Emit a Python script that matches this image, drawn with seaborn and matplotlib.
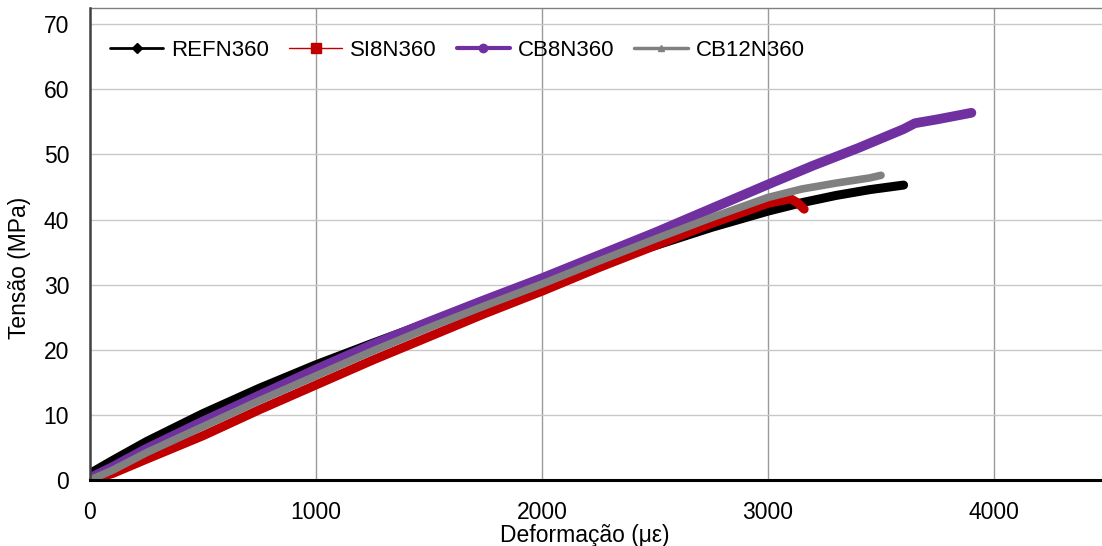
import matplotlib
matplotlib.use("Agg")
import matplotlib.pyplot as plt
from matplotlib.lines import Line2D
import seaborn as sns
import pandas as pd

# deformation (microstrain) / stress (MPa)
ref_x = [0, 100, 250, 500, 750, 1000, 1250, 1500, 1750, 2000, 2250, 2500, 2750, 3000, 3150, 3300, 3450, 3600]
ref_y = [1.0, 3.0, 5.9, 10.2, 14.1, 17.7, 21.0, 24.2, 27.4, 30.5, 33.3, 36.0, 38.8, 41.3, 42.6, 43.7, 44.6, 45.3]

si8_x = [0, 100, 250, 500, 750, 1000, 1250, 1500, 1750, 2000, 2250, 2500, 2750, 3000, 3100, 3130, 3160]
si8_y = [0.0, 1.0, 3.2, 6.8, 10.8, 14.6, 18.4, 22.0, 25.6, 29.0, 32.6, 36.0, 39.4, 42.5, 43.2, 42.6, 41.6]

cb8_x = [0, 100, 250, 500, 750, 1000, 1250, 1500, 1750, 2000, 2250, 2500, 2750, 3000, 3200, 3400, 3600, 3650, 3750, 3900]
cb8_y = [0.3, 2.0, 4.8, 9.0, 13.0, 17.0, 20.8, 24.3, 27.7, 31.0, 34.5, 38.0, 41.7, 45.4, 48.3, 51.0, 53.9, 54.8, 55.4, 56.4]

cb12_x = [0, 100, 250, 500, 750, 1000, 1250, 1500, 1750, 2000, 2250, 2500, 2750, 3000, 3150, 3300, 3450, 3500]
cb12_y = [0.0, 1.5, 4.2, 8.2, 12.2, 16.0, 19.8, 23.4, 26.8, 30.1, 33.6, 37.0, 40.3, 43.4, 44.7, 45.6, 46.4, 46.8]

series = ["REFN360", "SI8N360", "CB8N360", "CB12N360"]
xs = [ref_x, si8_x, cb8_x, cb12_x]
ys = [ref_y, si8_y, cb8_y, cb12_y]

colors = {"REFN360": "#000000", "SI8N360": "#c00000", "CB8N360": "#7030a0", "CB12N360": "#808080"}
widths = {"REFN360": 6.5, "SI8N360": 6.5, "CB8N360": 7.0, "CB12N360": 5.5}
markers = {"REFN360": "D", "SI8N360": "s", "CB8N360": "o", "CB12N360": "^"}
msizes = {"REFN360": 5, "SI8N360": 7, "CB8N360": 6, "CB12N360": 5}
leg_lw = {"REFN360": 2.0, "SI8N360": 1.0, "CB8N360": 3.0, "CB12N360": 2.5}

frames = []
for name, x, y in zip(series, xs, ys):
    frames.append(pd.DataFrame({"def": x, "ten": y, "serie": name}))
df = pd.concat(frames, ignore_index=True)

sns.set_style("white")
plt.rcParams["font.family"] = ["Liberation Sans", "DejaVu Sans"]
plt.rcParams["text.color"] = "black"
plt.rcParams["axes.labelcolor"] = "black"
plt.rcParams["xtick.color"] = "black"
plt.rcParams["ytick.color"] = "black"

fig = plt.figure(figsize=(11.02, 5.46), dpi=100)
ax = fig.add_axes([90 / 1102, 66 / 546, 1017 / 1102, 472 / 546])

for name in series:
    sub = df[df["serie"] == name]
    sns.lineplot(data=sub, x="def", y="ten", ax=ax, color=colors[name], lw=widths[name],
                 sort=False, estimator=None, solid_joinstyle="round", solid_capstyle="round",
                 legend=False, zorder=3)

ax.set_xlim(0, 4500)
ax.set_ylim(0, 72.5)
ax.set_xticks([0, 1000, 2000, 3000, 4000])
ax.set_yticks(range(0, 80, 10))
ax.tick_params(axis="both", length=0, labelsize=16.5, pad=15)

for v in [1000, 2000, 3000, 4000]:
    ax.axvline(v, color="#9a9a9a", lw=1.0, zorder=1)
for v in range(10, 80, 10):
    ax.axhline(v, color="#c8c8c8", lw=1.0, zorder=1)

ax.spines["left"].set_color("#404040")
ax.spines["left"].set_linewidth(1.8)
ax.spines["bottom"].set_color("#000000")
ax.spines["bottom"].set_linewidth(2.2)
ax.spines["top"].set_color("#808080")
ax.spines["top"].set_linewidth(1.0)
ax.spines["right"].set_visible(False)
for s in ["left", "bottom"]:
    ax.spines[s].set_zorder(4)

ax.set_xlabel("Deformação (με)", fontsize=16.5, labelpad=1)
ax.set_ylabel("Tensão (MPa)", fontsize=16.5, labelpad=8)
ax.xaxis.set_label_coords(0.486, -0.093)
ax.yaxis.set_label_coords(-0.058, 0.45)

handles = [Line2D([], [], color=colors[n], lw=leg_lw[n], marker=markers[n], markersize=msizes[n])
           for n in series]
ax.legend(handles, series, loc="center left", bbox_to_anchor=(0.0, 0.911), ncol=4, frameon=False,
          fontsize=16, handlelength=2.4, handletextpad=0.35, columnspacing=0.9, borderaxespad=0.5)

fig.savefig("out.png", dpi=100)
